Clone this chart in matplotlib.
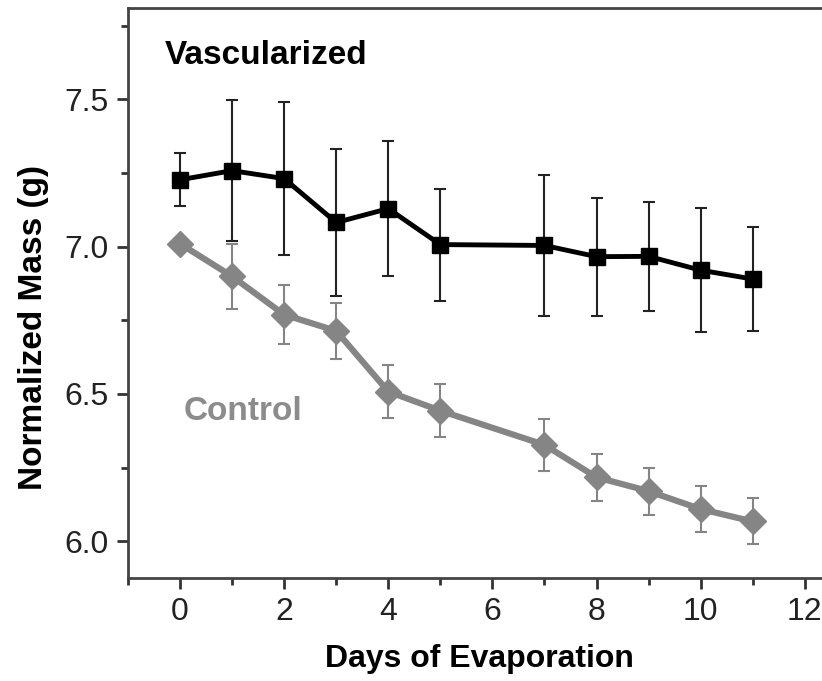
import numpy as np
import matplotlib.pyplot as plt
from matplotlib.ticker import MultipleLocator

plt.rcParams['font.family'] = ['Liberation Sans', 'DejaVu Sans']

# jours d'évaporation
days = [0, 1, 2, 3, 4, 5, 7, 8, 9, 10, 11]

# masse normalisée, échantillon vascularisé
vasc = [7.227, 7.258, 7.231, 7.082, 7.129, 7.007, 7.004, 6.966, 6.967, 6.920, 6.890]
vasc_err = [0.09, 0.24, 0.26, 0.25, 0.23, 0.19, 0.24, 0.20, 0.185, 0.21, 0.175]

# masse normalisée, témoin
ctrl = [7.010, 6.899, 6.769, 6.714, 6.508, 6.443, 6.327, 6.217, 6.170, 6.109, 6.067]
ctrl_err = [0.02, 0.11, 0.10, 0.095, 0.09, 0.09, 0.088, 0.08, 0.08, 0.077, 0.078]

gris = '#858585'

fig = plt.figure(figsize=(8.22, 6.81), dpi=100)
ax = fig.add_axes([0.1557, 0.1512, 0.855, 0.837])

ax.errorbar(days, ctrl, yerr=ctrl_err, color=gris, lw=4.5, marker='D', ms=13,
            ecolor=gris, elinewidth=1.5, capsize=4.3, capthick=1.5, zorder=2)
ax.errorbar(days, vasc, yerr=vasc_err, color='black', lw=3.5, marker='s', ms=11,
            ecolor='#222222', elinewidth=1.5, capsize=4.3, capthick=1.5, zorder=3)

ax.text(-0.29, 7.65, 'Vascularized', fontsize=24, fontweight='bold', color='black',
        va='center', ha='left')
ax.text(0.06, 6.44, 'Control', fontsize=24, fontweight='bold', color='#8c8c8c',
        va='center', ha='left')

ax.set_xlim(-1, 12.5)
ax.set_ylim(5.875, 7.81)
ax.xaxis.set_major_locator(MultipleLocator(2))
ax.xaxis.set_minor_locator(MultipleLocator(1))
ax.yaxis.set_major_locator(MultipleLocator(0.5))
ax.yaxis.set_minor_locator(MultipleLocator(0.25))
ax.yaxis.set_major_formatter(plt.FormatStrFormatter('%.1f'))

ax.tick_params(which='major', direction='out', length=8, width=2, labelsize=23,
               colors='#333333', labelcolor='#222222', pad=6)
ax.tick_params(which='minor', direction='out', length=5, width=2, colors='#333333')

for s in ['left', 'bottom', 'top']:
    ax.spines[s].set_linewidth(2)
    ax.spines[s].set_color('#444444')
ax.spines['right'].set_visible(False)

ax.set_xlabel('Days of Evaporation', fontsize=23, fontweight='bold', labelpad=12)
ax.set_ylabel('Normalized Mass (g)', fontsize=24, fontweight='bold')
ax.yaxis.set_label_coords(-0.112, 0.44)

fig.savefig('out.png', dpi=100)
